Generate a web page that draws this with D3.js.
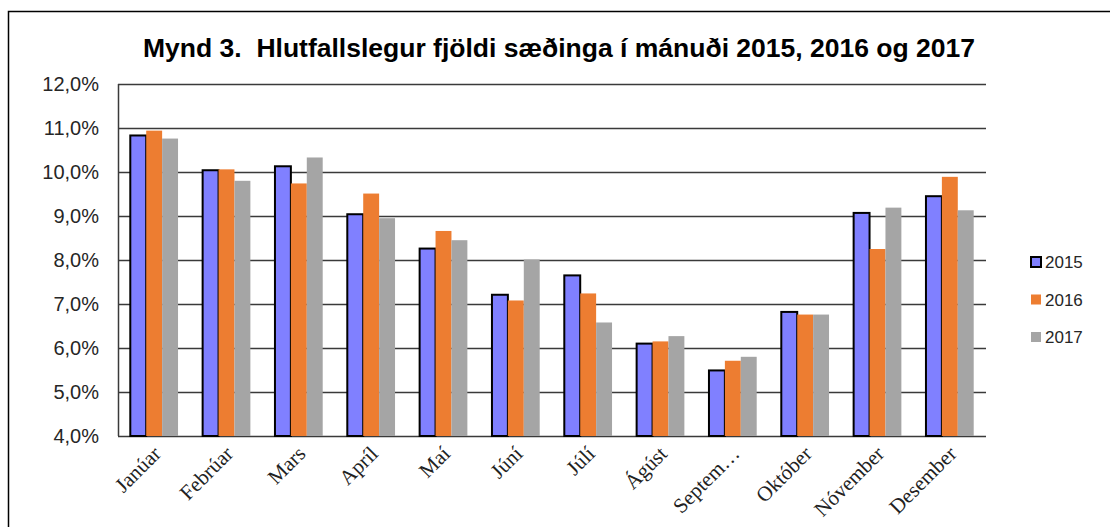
<!DOCTYPE html>
<html>
<head>
<meta charset="utf-8">
<script src="https://cdn.jsdelivr.net/npm/d3@7"></script>
<style>
  body { margin: 0; background: #fff; }
  svg { display: block; }
</style>
</head>
<body>
<svg id="chart" width="1110" height="527"></svg>
<script>
// data (% of births per month)
var months = ["Janúar", "Febrúar", "Mars", "Apríl", "Maí", "Júní", "Júlí", "Ágúst", "Septem…", "Október", "Nóvember", "Desember"];
var years = ["2015", "2016", "2017"];
var v2015 = [10.83, 10.04, 10.13, 9.04, 8.26, 7.21, 7.65, 6.10, 5.49, 6.82, 9.07, 9.45];
var v2016 = [10.94, 10.06, 9.74, 9.51, 8.66, 7.08, 7.24, 6.15, 5.71, 6.76, 8.25, 9.89];
var v2017 = [10.76, 9.80, 10.33, 8.95, 8.45, 8.01, 6.58, 6.27, 5.80, 6.76, 9.19, 9.13];
var yTicks = [4, 5, 6, 7, 8, 9, 10, 11, 12];
var title = "Mynd 3.  Hlutfallslegur fjöldi sæðinga í mánuði 2015, 2016 og 2017";

var series = {"2015": v2015, "2016": v2016, "2017": v2017};
var color = d3.scaleOrdinal().domain(years).range(["#8080FF", "#ED7D31", "#A5A5A5"]);

var svg = d3.select("#chart"),
    margin = {top: 84, left: 118},
    width = 868,
    height = 352;

// outer frame, runs off the right and bottom edges
svg.append("rect")
    .attr("x", 8.5).attr("y", 11.5)
    .attr("width", 1120).attr("height", 540)
    .attr("fill", "none").attr("stroke", "#000").attr("stroke-width", 1.5);

svg.append("text")
    .attr("x", 143).attr("y", 57)
    .attr("font-family", "Arial, 'Liberation Sans', sans-serif")
    .attr("font-weight", "bold")
    .attr("font-size", 26.5)
    .attr("fill", "#000")
    .attr("xml:space", "preserve")
    .style("white-space", "pre")
    .text(title);

var g = svg.append("g").attr("transform", "translate(" + margin.left + "," + margin.top + ")");

var x0 = d3.scaleBand().domain(months).range([0, width]).padding(0);
var x1 = d3.scaleBand().domain(years)
    .range([x0.bandwidth() * 0.17, x0.bandwidth() * 0.83]).padding(0);
var y = d3.scaleLinear().domain([4, 12]).range([height, 0]);

// gridlines
g.append("g")
    .selectAll("line")
    .data(yTicks)
    .enter().append("line")
    .attr("x1", 0).attr("x2", width)
    .attr("y1", function (d) { return Math.round(y(d)) + 0.5; })
    .attr("y2", function (d) { return Math.round(y(d)) + 0.5; })
    .attr("stroke", "#3a3a3a").attr("stroke-width", 1.5);

// y axis labels
var yAxis = g.append("g")
    .call(d3.axisLeft(y).tickValues(yTicks).tickSize(0).tickPadding(19)
        .tickFormat(function (d) { return d3.format(".1f")(d).replace(".", ",") + "%"; }));
yAxis.select(".domain").remove();
yAxis.selectAll("text")
    .attr("font-family", "Arial, 'Liberation Sans', sans-serif")
    .attr("font-size", 20)
    .attr("fill", "#262626");

// bars
g.append("g")
    .selectAll("g")
    .data(months)
    .enter().append("g")
    .attr("transform", function (d) { return "translate(" + x0(d) + ",0)"; })
    .selectAll("rect")
    .data(function (m, i) {
        return years.map(function (yr) { return {year: yr, value: series[yr][i]}; });
    })
    .enter().append("rect")
    .attr("x", function (d) { return x1(d.year); })
    .attr("y", function (d) { return y(d.value); })
    .attr("width", x1.bandwidth())
    .attr("height", function (d) { return height - y(d.value); })
    .attr("fill", function (d) { return color(d.year); })
    .attr("stroke", function (d) { return d.year === "2015" ? "#000" : "none"; })
    .attr("stroke-width", 2);

// left axis line
g.append("line")
    .attr("x1", 0.5).attr("x2", 0.5)
    .attr("y1", 0).attr("y2", height)
    .attr("stroke", "#3a3a3a").attr("stroke-width", 1.5);

// x labels, rotated
var xAxis = g.append("g")
    .attr("transform", "translate(0," + height + ")")
    .call(d3.axisBottom(x0).tickSize(0).tickPadding(0));
xAxis.select(".domain").remove();
xAxis.selectAll("text")
    .attr("font-family", "'Times New Roman', 'Liberation Serif', serif")
    .attr("font-size", 21)
    .attr("fill", "#222")
    .attr("text-anchor", "end")
    .attr("dy", null)
    .attr("transform", "translate(8,19) rotate(-45)");

// legend
var legend = svg.append("g")
    .selectAll("g")
    .data(years)
    .enter().append("g")
    .attr("transform", function (d, i) { return "translate(1031," + (257 + i * 37.5) + ")"; });

legend.append("rect")
    .attr("width", 10).attr("height", 10)
    .attr("fill", function (d) { return color(d); })
    .attr("stroke", function (d) { return d === "2015" ? "#000" : "none"; })
    .attr("stroke-width", 2);

legend.append("text")
    .attr("x", 14).attr("y", 11)
    .attr("font-family", "Arial, 'Liberation Sans', sans-serif")
    .attr("font-size", 17)
    .attr("fill", "#262626")
    .text(function (d) { return d; });
</script>
</body>
</html>
